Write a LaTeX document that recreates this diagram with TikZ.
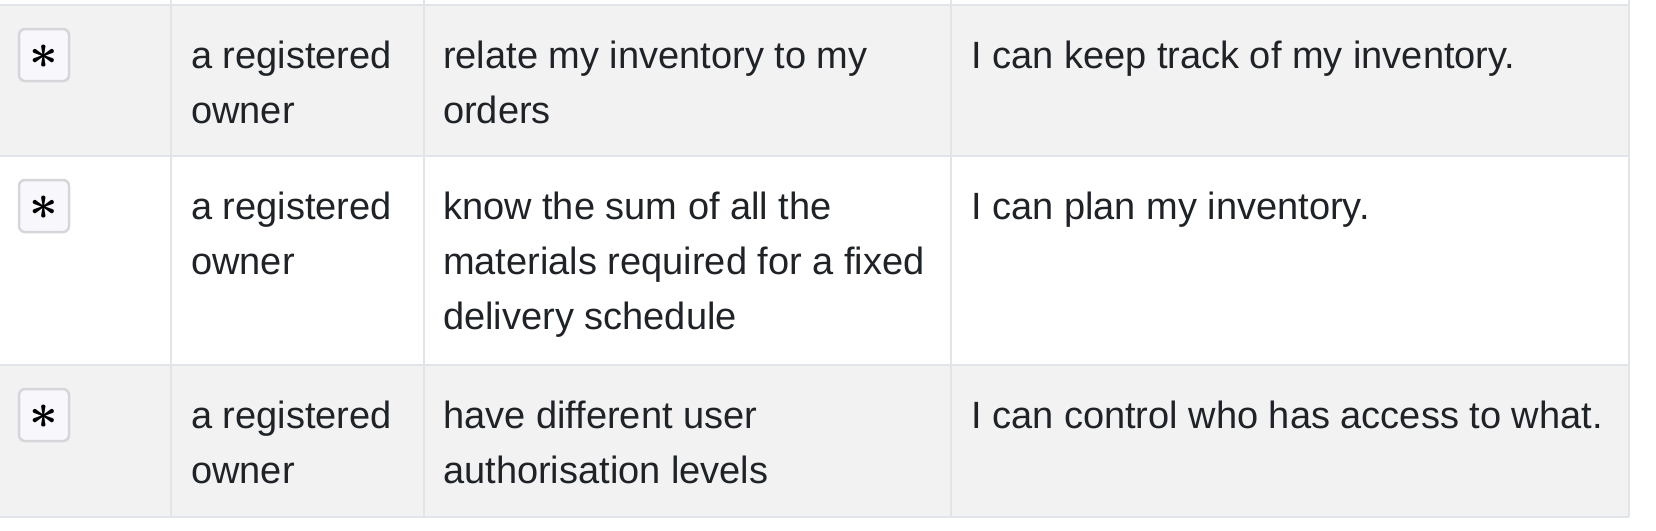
\documentclass[tikz,border=0pt]{standalone}
\usepackage{fontspec}
\setmainfont{Liberation Sans}
\definecolor{stripe}{HTML}{F2F2F2}
\definecolor{rulegray}{HTML}{E1E4E8}
\definecolor{ink}{HTML}{1F2328}
\definecolor{keyfill}{HTML}{F7F7FC}
\definecolor{keyline}{HTML}{D5D6DA}
\tikzset{
  cell/.style={anchor=north west, inner sep=0pt, align=left, text=ink,
    font=\fontsize{38}{55}\selectfont},
  keybox/.style={draw=keyline, fill=keyfill, line width=2.5pt, rounded corners=6pt},
  keystar/.style={text=black, inner sep=0pt, scale=2.4, font=\huge\boldmath},
  gridline/.style={draw=rulegray, line width=2.3pt},
}
\begin{document}
\begin{tikzpicture}[x=1pt, y=-1pt]
  % Page size
  \useasboundingbox (0,0) rectangle (1656,530);

  % Striped rows
  \fill[stripe] (0,5) rectangle (1629,156);
  \fill[stripe] (0,365) rectangle (1629,517);

  % Grid lines
  \foreach \y in {5,156,365,517}
    \draw[gridline] (0,\y) -- (1629,\y);
  \foreach \x in {171,424,951,1629}
    \draw[gridline] (\x,0) -- (\x,517);

  % Rows: top / who / what / why (first baseline at top+63, strut is 38.5 high)
  \foreach \top/\who/\what/\why [count=\i] in {
      5/{a registered\\owner}/{relate my inventory to my\\orders}/{I can keep track of my inventory.},
      156/{a registered\\owner}/{know the sum of all the\\materials required for a fixed\\delivery schedule}/{I can plan my inventory.},
      365/{a registered\\owner}/{have different user\\authorisation levels}/{I can control who has access to what.}} {
    \draw[keybox] (19,{\top+24}) rectangle (69,{\top+76});
    \node[keystar] (key\i) at (43.5,{\top+52}) {$\ast$};
    \node[cell] (who\i) at (191,{\top+24.5}) {\strut\who};
    \node[cell] (what\i) at (443,{\top+24.5}) {\strut\what};
    \node[cell] (why\i) at (971,{\top+24.5}) {\strut\why};
  }
\end{tikzpicture}
\end{document}
